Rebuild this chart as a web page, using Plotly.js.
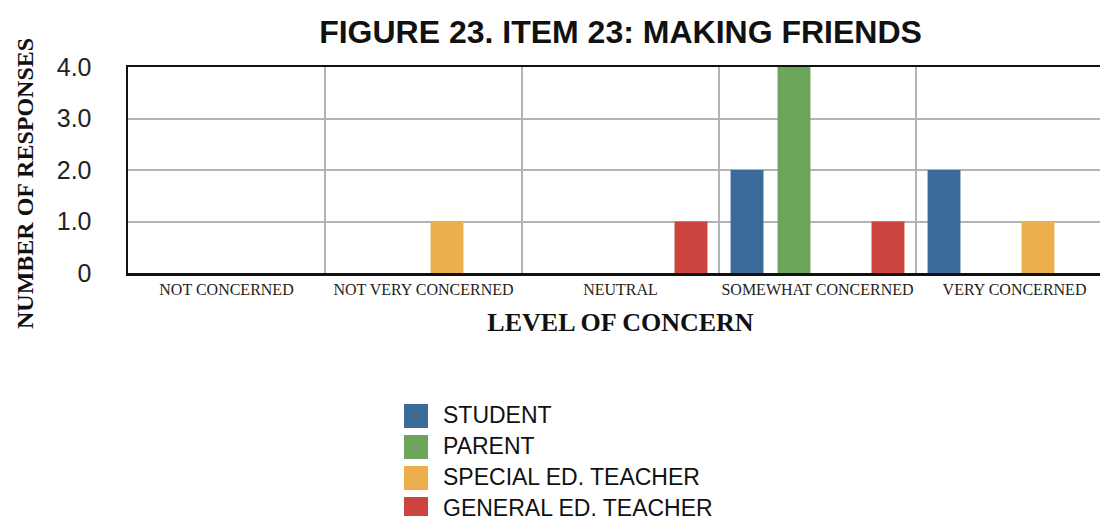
<!DOCTYPE html>
<html>
<head>
<meta charset="utf-8">
<script src="https://cdn.plot.ly/plotly-3.0.1.min.js"></script>
<style>
html,body{margin:0;padding:0;overflow:hidden;background:#fff;width:1100px;height:516px;}
#chart{width:1115px;height:516px;}
</style>
</head>
<body>
<div id="chart"></div>
<script>
const categories = ["NOT CONCERNED", "NOT VERY CONCERNED", "NEUTRAL", "SOMEWHAT CONCERNED", "VERY CONCERNED"];
const seriesNames = ["STUDENT", "PARENT", "SPECIAL ED. TEACHER", "GENERAL ED. TEACHER"];
const student = [0, 0, 0, 2, 2];
const parent = [0, 0, 0, 4, 0];
const specialEd = [0, 1, 0, 0, 1];
const generalEd = [0, 0, 1, 1, 0];
const seriesValues = [student, parent, specialEd, generalEd];
const colors = ["#3C6B9B", "#6BA55A", "#EDAF4B", "#CC433F"];
const yTickVals = [0, 1, 2, 3, 4];
const yTickText = ["0", "1.0", "2.0", "3.0", "4.0"];

const W = 1115, H = 516;
const mL = 128, mR = 2, mT = 67, mB = 243;
const plotW = W - mL - mR, plotH = H - mT - mB;
const px = x => (x - mL) / plotW;
const py = y => (H - mB - y) / plotH;

const traces = seriesValues.map((vals, i) => ({
  type: "bar",
  name: seriesNames[i],
  x: categories,
  y: vals,
  marker: {color: colors[i]},
  showlegend: false
}));

const shapes = [];
const annotations = [];
seriesNames.forEach((name, i) => {
  const cy = 416 + i * 31;
  shapes.push({
    type: "rect", xref: "paper", yref: "paper",
    x0: px(404), x1: px(428), y0: py(cy + 12), y1: py(cy - 12),
    fillcolor: colors[i], line: {width: 0}
  });
  annotations.push({
    xref: "paper", yref: "paper", x: px(441), y: py(cy - 1),
    xanchor: "left", yanchor: "middle", showarrow: false,
    text: name, font: {family: "Liberation Sans, Arial, sans-serif", size: 23, color: "#111"}
  });
});
annotations.push({
  xref: "paper", yref: "paper", x: px(25), y: py(184),
  xanchor: "center", yanchor: "middle", showarrow: false, textangle: -90,
  text: "<b>NUMBER OF RESPONSES</b>",
  font: {family: "Liberation Serif, Times New Roman, serif", size: 24, color: "#111"}
});

const layout = {
  width: W, height: H,
  margin: {l: mL, r: mR, t: mT, b: mB},
  paper_bgcolor: "#fff", plot_bgcolor: "#fff",
  barmode: "group", bargap: 0.046, bargroupgap: 0.3,
  title: {
    text: "<b>FIGURE 23. ITEM 23: MAKING FRIENDS</b>",
    x: 0.5, xref: "paper", xanchor: "center",
    y: 1 - 32 / H, yanchor: "middle",
    font: {family: "Liberation Sans, Arial, sans-serif", size: 32, color: "#111"}
  },
  xaxis: {
    type: "category",
    tickson: "boundaries",
    showgrid: true, gridcolor: "#b3b3b3", gridwidth: 2,
    showline: true, linecolor: "#111", linewidth: 2.5, mirror: true,
    ticks: "", ticklen: 0, tickangle: 0,
    tickfont: {family: "Liberation Serif, Times New Roman, serif", size: 16, color: "#222"},
    title: {text: "<b>LEVEL OF CONCERN</b>", standoff: 16,
      font: {family: "Liberation Serif, Times New Roman, serif", size: 26, color: "#111"}},
    automargin: false, fixedrange: true
  },
  yaxis: {
    range: [0, 4],
    tickvals: yTickVals, ticktext: yTickText,
    showgrid: true, gridcolor: "#b3b3b3", gridwidth: 2,
    showline: true, linecolor: "#111", linewidth: 2.5, mirror: true,
    zeroline: false,
    ticks: "", ticklabelstandoff: 29,
    tickfont: {family: "Liberation Sans, Arial, sans-serif", size: 25, color: "#222"},
    automargin: false, fixedrange: true
  },
  shapes: shapes,
  annotations: annotations,
  showlegend: false
};

Plotly.newPlot("chart", traces, layout, {displayModeBar: false, staticPlot: true});
</script>
</body>
</html>
